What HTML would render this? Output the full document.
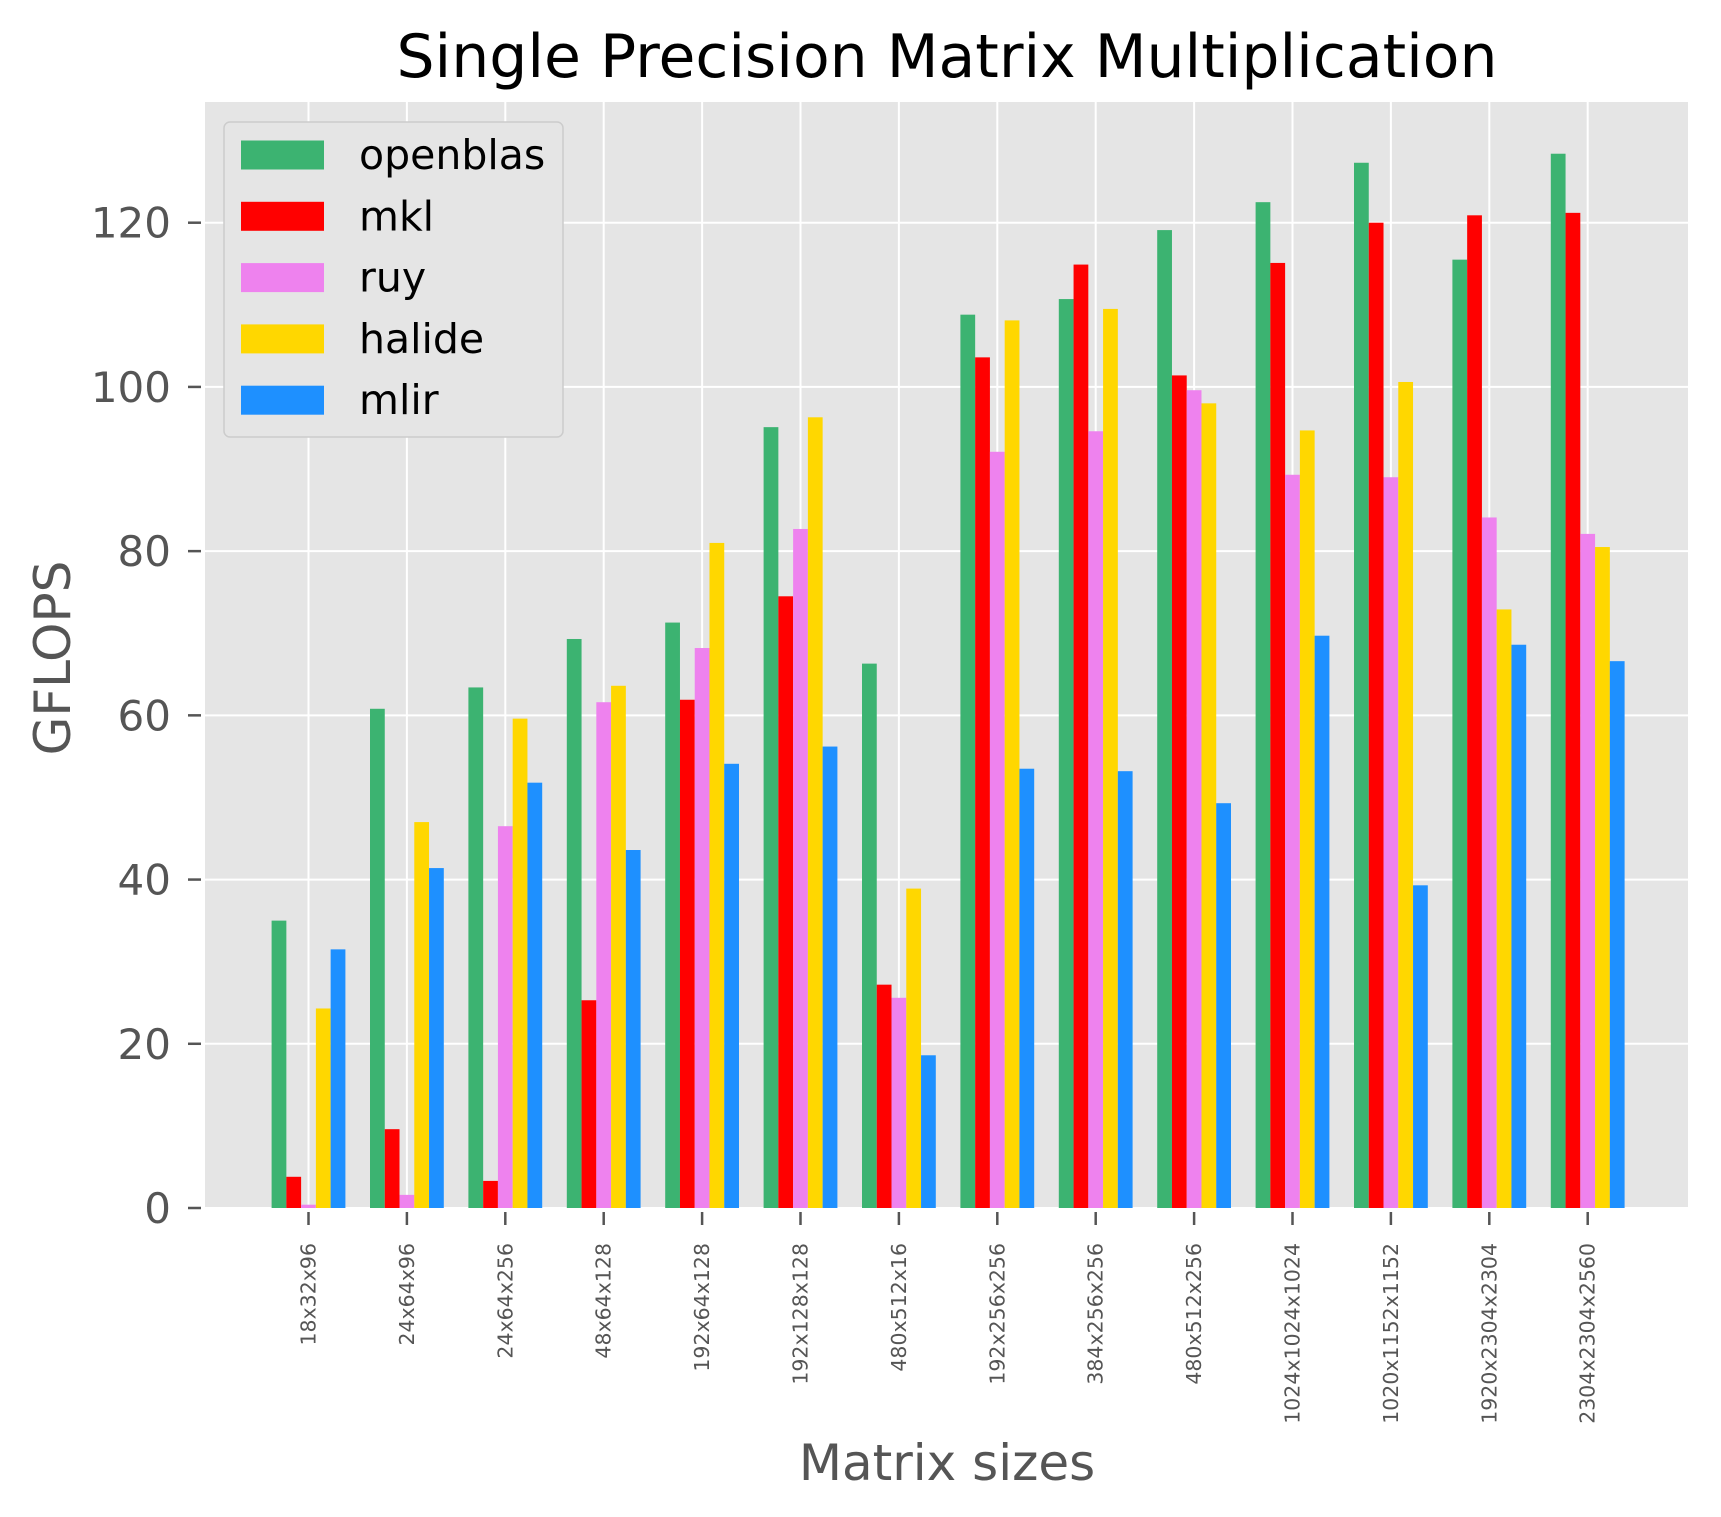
<!DOCTYPE html>
<html><head><meta charset="utf-8"><style>body{margin:0;background:#fff}svg{display:block;font-family:"DejaVu Sans","Liberation Sans",sans-serif}</style></head>
<body>
<svg id="chart" width="1721" height="1517" viewBox="0 0 1721 1517">
<rect x="0" y="0" width="1721" height="1517" fill="#fff"/>
<rect x="205" y="102" width="1483" height="1106" fill="#e5e5e5"/>
<g id="grid"></g><g id="bars"></g><g id="axes"></g>
<text x="947" y="77" font-size="60" text-anchor="middle" fill="#000">Single Precision Matrix Multiplication</text>
<text x="0" y="0" font-size="50" fill="#555" text-anchor="middle" transform="translate(70,658) rotate(-90)">GFLOPS</text>
<text x="947" y="1480" font-size="50" fill="#555" text-anchor="middle">Matrix sizes</text>
<g id="legend"></g>
</svg>
<script>
const categories=["18x32x96","24x64x96","24x64x256","48x64x128","192x64x128","192x128x128","480x512x16","192x256x256","384x256x256","480x512x256","1024x1024x1024","1020x1152x1152","1920x2304x2304","2304x2304x2560"];
const seriesNames=["openblas","mkl","ruy","halide","mlir"];
const seriesColors=["#3cb371","#ff0000","#ee82ee","#ffd700","#1e90ff"];
const openblas=[35,60.8,63.4,69.3,71.3,95.1,66.3,108.8,110.7,119.1,122.5,127.3,115.5,128.4];
const mkl=[3.8,9.6,3.3,25.3,61.9,74.5,27.2,103.6,114.9,101.4,115.1,120.0,120.9,121.2];
const ruy=[0.4,1.6,46.5,61.6,68.2,82.7,25.6,92.1,94.6,99.6,89.3,89.0,84.1,82.1];
const halide=[24.3,47.0,59.6,63.6,81.0,96.3,38.9,108.1,109.5,98.0,94.7,100.6,72.9,80.5];
const mlir=[31.5,41.4,51.8,43.6,54.1,56.2,18.6,53.5,53.2,49.3,69.7,39.3,68.6,66.6];
const yTicks=[0,20,40,60,80,100,120];
const series=[openblas,mkl,ruy,halide,mlir];
const NS="http://www.w3.org/2000/svg";
function mk(t,a,p){const e=document.createElementNS(NS,t);for(const k in a)e.setAttribute(k,a[k]);p.appendChild(e);return e;}
const pLeft=205,pRight=1688,pTop=102,pBottom=1208,ymax=134.7;
const yS=v=>pBottom-v/ymax*(pBottom-pTop);
const step=98.4,x0=308.5;
const xc=i=>x0+i*step;
const bw=step*0.15;
const gridG=document.getElementById('grid'),barsG=document.getElementById('bars'),axesG=document.getElementById('axes'),legendG=document.getElementById('legend');
yTicks.forEach(v=>{
  const l=mk('line',{x1:pLeft,x2:pRight,y1:yS(v),y2:yS(v),stroke:'#fff','stroke-width':2},gridG);
  
  
  const t=mk('line',{x1:pLeft-17,x2:pLeft-4,y1:yS(v),y2:yS(v),stroke:'#555','stroke-width':2.5},axesG);
  
  
  const tx=mk('text',{x:pLeft-34,y:yS(v)+15,'font-size':42,fill:'#555','text-anchor':'end'},axesG);
  tx.textContent=v;
  
  
});
categories.forEach((c,i)=>{
  const g=mk('line',{x1:xc(i),x2:xc(i),y1:pTop,y2:pBottom,stroke:'#fff','stroke-width':2},gridG);
  
  
  const t=mk('line',{x1:xc(i),x2:xc(i),y1:pBottom+4,y2:pBottom+17,stroke:'#555','stroke-width':2.5},axesG);
  
  
  const tx=mk('text',{x:0,y:0,'font-size':20.5,fill:'#555','text-anchor':'end',transform:`translate(${xc(i)+7},1243) rotate(-90)`},axesG);
  tx.textContent=c;
  
  
  series.forEach((s,j)=>{
    const cx=xc(i)+(j-2)*bw;
    const r=mk('rect',{x:cx-bw/2,y:yS(s[i]),width:bw,height:pBottom-yS(s[i]),fill:seriesColors[j]},barsG);
    
    
  });
});
const box=mk('rect',{x:224,y:122,width:339,height:315,rx:6,fill:'#e5e5e5',stroke:'#ccc','stroke-width':1.5},legendG);


seriesNames.forEach((n,j)=>{
  const cy=155+j*61.3;
  const p=mk('rect',{x:241,y:cy-14.5,width:83,height:29,fill:seriesColors[j]},legendG);
  
  
  const t=mk('text',{x:359,y:cy+14,'font-size':41,fill:'#000'},legendG);
  t.textContent=n;
  
  
});
</script>
</body></html>
